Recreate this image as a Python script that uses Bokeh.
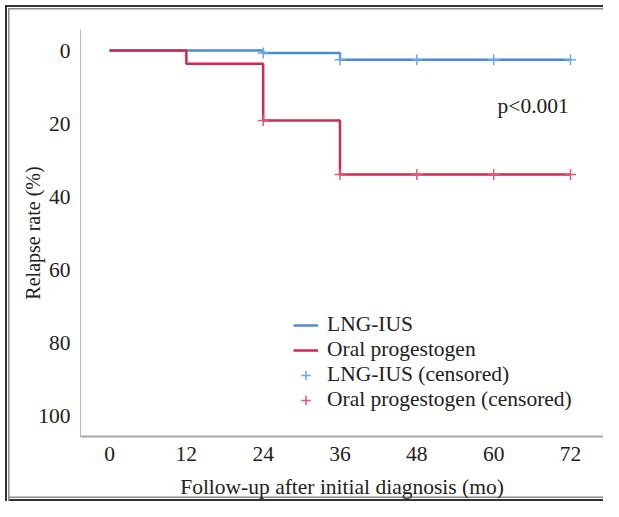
from bokeh.plotting import figure
from bokeh.models import Range1d, FixedTicker, Legend, LegendItem, Label
from bokeh.embed import file_html
from bokeh.resources import INLINE

# Data
lng_times = [0, 24, 36, 72]
lng_rates = [0, 0.7, 2.5, 2.5]
oral_times = [0, 12, 24, 36, 72]
oral_rates = [0, 3.6, 19.1, 33.9, 33.9]
lng_cens_t = [24, 36, 48, 60, 72]
lng_cens_r = [0.7, 2.5, 2.5, 2.5, 2.5]
oral_cens_t = [24, 36, 48, 60, 72]
oral_cens_r = [19.1, 33.9, 33.9, 33.9, 33.9]
x_ticks = [0, 12, 24, 36, 48, 60, 72]
y_ticks = [0, 20, 40, 60, 80, 100]

BLUE = "#4A8CD3"
RED = "#D02A50"
BLUE_C = "#6FA6E4"
RED_C = "#E0587A"
FONT = "Liberation Serif"
FS = "21.5px"

p = figure(width=603, height=501, output_backend="svg", toolbar_location=None,
           x_range=Range1d(-4.53, 77.15), y_range=Range1d(105.5, -5.74),
           min_border_left=80, min_border_right=0, min_border_top=29, min_border_bottom=65)
sh = []
for d, c in ((5, "#fff"), (7, "#333"), (8, "#fff"), (9.5, "#8a8a8a")):
    sh.append(f"inset {d}px 0 0 {c}")
    sh.append(f"inset 0 {d}px 0 {c}")
for d, c in ((2, "#333"), (3, "#fff"), (4.5, "#8a8a8a")):
    sh.append(f"inset 0 -{d}px 0 {c}")
p.styles = {"box-shadow": ", ".join(sh)}
p.border_fill_color = None
p.outline_line_color = None
p.xgrid.visible = False
p.ygrid.visible = False

r_lng = p.step(lng_times, lng_rates, mode="after", line_color=BLUE, line_width=2.5)
r_oral = p.step(oral_times, oral_rates, mode="after", line_color=RED, line_width=2.5)
r_lc = p.scatter(lng_cens_t, lng_cens_r, marker="cross", size=11, line_color=BLUE_C, line_width=1.5)
r_oc = p.scatter(oral_cens_t, oral_cens_r, marker="cross", size=11, line_color=RED_C, line_width=1.5)

for ax in (p.xaxis[0], p.yaxis[0]):
    ax.major_tick_line_color = None
    ax.minor_tick_line_color = None
    ax.major_label_text_font = FONT
    ax.major_label_text_font_size = FS
    ax.major_label_text_color = "#222222"
    ax.axis_label_text_font = FONT
    ax.axis_label_text_font_style = "normal"
    ax.axis_label_text_color = "#222222"

p.xaxis.axis_label_text_font_size = FS
p.yaxis.axis_label_text_font_size = "20px"
p.xaxis.ticker = FixedTicker(ticks=x_ticks)
p.yaxis.ticker = FixedTicker(ticks=y_ticks)
p.xaxis.axis_line_color = "#A8A8A8"
p.xaxis.axis_line_width = 2
p.yaxis.axis_line_color = "#BBBBBB"
p.yaxis.axis_line_width = 1
p.xaxis.major_label_standoff = 4
p.yaxis.major_label_standoff = 4
p.xaxis.axis_label = "Follow-up after initial diagnosis (mo)"
p.yaxis.axis_label = "Relapse rate (%)"
p.xaxis.axis_label_standoff = 11
p.yaxis.axis_label_standoff = -9

p.add_layout(Label(x=60.6, y=15.3, text="p<0.001", text_font=FONT, text_font_size=FS,
                   text_color="#222222", text_baseline="middle", text_align="left"))

legend = Legend(items=[
    LegendItem(label="LNG-IUS", renderers=[r_lng]),
    LegendItem(label="Oral progestogen", renderers=[r_oral]),
    LegendItem(label="LNG-IUS (censored)", renderers=[r_lc]),
    LegendItem(label="Oral progestogen (censored)", renderers=[r_oc]),
], location=(213, 24))
legend.background_fill_alpha = 0
legend.border_line_color = None
legend.padding = 0
legend.margin = 0
legend.spacing = 0
legend.glyph_width = 25
legend.glyph_height = 24
legend.label_height = 24
legend.label_standoff = 9
legend.label_text_font = FONT
legend.label_text_font_size = FS
legend.label_text_color = "#222222"
legend.label_text_baseline = "middle"
p.add_layout(legend, "center")

open("out.html", "w").write(file_html(p, INLINE))
